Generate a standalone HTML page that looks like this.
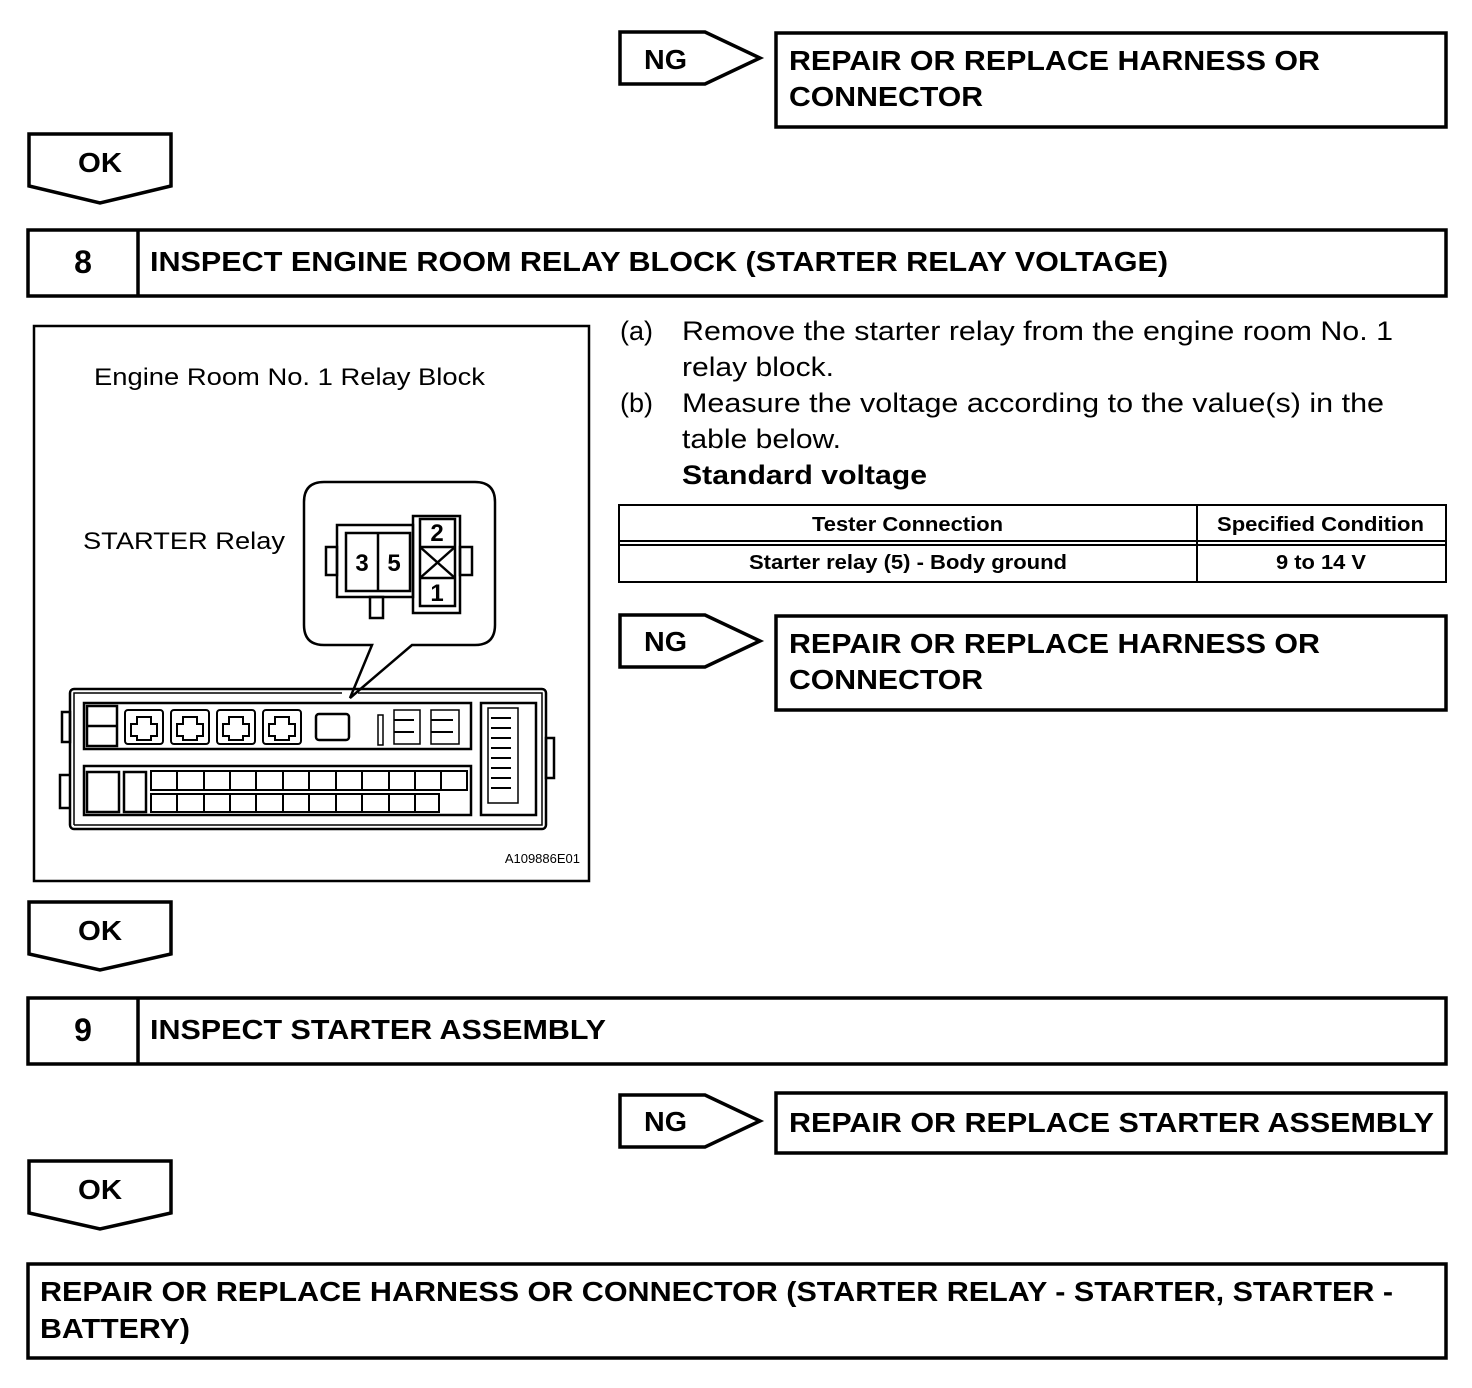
<!DOCTYPE html>
<html><head><style>html,body{margin:0;padding:0;background:#fff}svg{display:block}</style></head>
<body>
<svg width="1472" height="1388" viewBox="0 0 1472 1388" xmlns="http://www.w3.org/2000/svg" font-family="Liberation Sans, Arial, sans-serif">
<g fill="none" stroke="#000" stroke-width="3.5">
<path d="M620,32 H705 L760,58 L705,84 H620 Z"/>
<path d="M620,615 H705 L760,641 L705,667 H620 Z"/>
<path d="M620,1095 H705 L760,1121 L705,1147 H620 Z"/>
<path d="M29,134 H171 V186 L100,203 L29,186 Z"/>
<path d="M29,902 H171 V954 L100,970 L29,954 Z"/>
<path d="M29,1161 H171 V1213 L100,1229 L29,1213 Z"/>
<rect x="776" y="33" width="670" height="94"/>
<rect x="776" y="616" width="670" height="94"/>
<rect x="776" y="1093" width="670" height="60"/>
<rect x="28" y="1264" width="1418" height="94"/>
<rect x="28" y="230" width="1418" height="66"/>
<line x1="138" y1="230" x2="138" y2="296"/>
<rect x="28" y="998" width="1418" height="66"/>
<line x1="138" y1="998" x2="138" y2="1064"/>
</g>
<g font-weight="bold" font-size="28" lengthAdjust="spacingAndGlyphs">
<text x="644" y="69" textLength="43" lengthAdjust="spacingAndGlyphs">NG</text>
<text x="644" y="651" textLength="43" lengthAdjust="spacingAndGlyphs">NG</text>
<text x="644" y="1131" textLength="43" lengthAdjust="spacingAndGlyphs">NG</text>
<text x="78" y="172" textLength="44" lengthAdjust="spacingAndGlyphs">OK</text>
<text x="78" y="940" textLength="44" lengthAdjust="spacingAndGlyphs">OK</text>
<text x="78" y="1199" textLength="44" lengthAdjust="spacingAndGlyphs">OK</text>
<text x="789" y="70" textLength="531" lengthAdjust="spacingAndGlyphs">REPAIR OR REPLACE HARNESS OR</text>
<text x="789" y="106" textLength="194" lengthAdjust="spacingAndGlyphs">CONNECTOR</text>
<text x="789" y="653" textLength="531" lengthAdjust="spacingAndGlyphs">REPAIR OR REPLACE HARNESS OR</text>
<text x="789" y="689" textLength="194" lengthAdjust="spacingAndGlyphs">CONNECTOR</text>
<text x="789" y="1132" textLength="645" lengthAdjust="spacingAndGlyphs">REPAIR OR REPLACE STARTER ASSEMBLY</text>
<text x="40" y="1301" textLength="1353" lengthAdjust="spacingAndGlyphs">REPAIR OR REPLACE HARNESS OR CONNECTOR (STARTER RELAY - STARTER, STARTER -</text>
<text x="40" y="1338" textLength="150" lengthAdjust="spacingAndGlyphs">BATTERY)</text>
<text x="83" y="273" text-anchor="middle" font-size="32">8</text>
<text x="150" y="271" textLength="1018" lengthAdjust="spacingAndGlyphs">INSPECT ENGINE ROOM RELAY BLOCK (STARTER RELAY VOLTAGE)</text>
<text x="83" y="1041" text-anchor="middle" font-size="32">9</text>
<text x="150" y="1039" textLength="456" lengthAdjust="spacingAndGlyphs">INSPECT STARTER ASSEMBLY</text>
</g>
<g font-size="27">
<text x="620" y="340">(a)</text><text x="682" y="340" textLength="711" lengthAdjust="spacingAndGlyphs">Remove the starter relay from the engine room No. 1</text>
<text x="682" y="376" textLength="152" lengthAdjust="spacingAndGlyphs">relay block.</text>
<text x="620" y="412">(b)</text><text x="682" y="412" textLength="702" lengthAdjust="spacingAndGlyphs">Measure the voltage according to the value(s) in the</text>
<text x="682" y="448" textLength="159" lengthAdjust="spacingAndGlyphs">table below.</text>
<text x="682" y="484" font-weight="bold" textLength="245" lengthAdjust="spacingAndGlyphs">Standard voltage</text>
</g>
<g fill="none" stroke="#000" stroke-width="2">
<rect x="619" y="505" width="827" height="77"/>
<line x1="619" y1="541" x2="1446" y2="541"/>
<line x1="619" y1="545" x2="1446" y2="545"/>
<line x1="1197" y1="505" x2="1197" y2="582"/>
</g>
<g font-weight="bold" font-size="20">
<text x="812" y="531" textLength="191" lengthAdjust="spacingAndGlyphs">Tester Connection</text>
<text x="1217" y="531" textLength="207" lengthAdjust="spacingAndGlyphs">Specified Condition</text>
<text x="749" y="569" textLength="318" lengthAdjust="spacingAndGlyphs">Starter relay (5) - Body ground</text>
<text x="1276" y="569" textLength="90" lengthAdjust="spacingAndGlyphs">9 to 14 V</text>
</g>
<g fill="none" stroke="#000" stroke-width="2.5">
<rect x="34" y="326" width="555" height="555"/>
<path d="M324,482 H475 Q495,482 495,502 V625 Q495,645 475,645 H412 L350,698 L372,645 H324 Q304,645 304,625 V502 Q304,482 324,482 Z" fill="#fff"/>
<rect x="337" y="525" width="76" height="72"/>
<rect x="346" y="533" width="64" height="58"/>
<line x1="378" y1="533" x2="378" y2="591"/>
<rect x="413" y="516" width="47" height="97"/>
<rect x="420" y="519" width="35" height="87"/>
<line x1="420" y1="547" x2="455" y2="547"/>
<line x1="420" y1="578" x2="455" y2="578"/>
<line x1="420" y1="547" x2="455" y2="578"/>
<line x1="455" y1="547" x2="420" y2="578"/>
<rect x="326" y="547" width="11" height="28"/>
<rect x="460" y="547" width="12" height="28"/>
<rect x="370" y="597" width="13" height="21"/>
<rect x="70" y="689" width="476" height="140" rx="4"/>
<path d="M74,825 V693 H342 M358,693 H542 V825 H74" stroke-width="1.5"/>
<rect x="84" y="703" width="387" height="46"/>
<rect x="84" y="766" width="387" height="49"/>
<rect x="481" y="703" width="55" height="112"/>
<rect x="488" y="708" width="30" height="95" stroke-width="1.5"/>
<rect x="62" y="712" width="8" height="30"/>
<path d="M70,775 H60 V808 H70"/>
<rect x="546" y="738" width="8" height="40"/>
<rect x="87" y="706" width="30" height="40"/>
<line x1="87" y1="726" x2="117" y2="726"/>
<rect x="316" y="714" width="33" height="26" rx="3"/>
<rect x="378" y="715" width="5" height="30" stroke-width="1.5"/>
<rect x="394" y="710" width="26" height="34" stroke-width="1.5"/>
<rect x="431" y="710" width="28" height="34" stroke-width="1.5"/>
<rect x="87" y="772" width="32" height="40"/>
<rect x="124" y="772" width="22" height="40"/>
</g>
<g fill="none" stroke="#000" stroke-width="2">
<rect x="125" y="710" width="38" height="34" rx="3"/><path d="M137,717 h14 v7 h6 v12 h-6 v4 h-14 v-4 h-6 v-12 h6 z"/>
<rect x="171" y="710" width="38" height="34" rx="3"/><path d="M183,717 h14 v7 h6 v12 h-6 v4 h-14 v-4 h-6 v-12 h6 z"/>
<rect x="217" y="710" width="38" height="34" rx="3"/><path d="M229,717 h14 v7 h6 v12 h-6 v4 h-14 v-4 h-6 v-12 h6 z"/>
<rect x="263" y="710" width="38" height="34" rx="3"/><path d="M275,717 h14 v7 h6 v12 h-6 v4 h-14 v-4 h-6 v-12 h6 z"/>
<path d="M151,771 h316 v19 h-316 z M151,794 h288 v18 h-288 z"/>
<path d="M177,771 v19 M204,771 v19 M230,771 v19 M256,771 v19 M283,771 v19 M309,771 v19 M336,771 v19 M362,771 v19 M389,771 v19 M415,771 v19 M441,771 v19"/>
<path d="M177,794 v18 M204,794 v18 M230,794 v18 M256,794 v18 M283,794 v18 M309,794 v18 M336,794 v18 M362,794 v18 M389,794 v18 M415,794 v18"/>
<path d="M491,718 h20 M491,728 h20 M491,738 h20 M491,748 h20 M491,758 h20 M491,768 h20 M491,778 h20 M491,788 h20"/>
<path d="M394,720 h20 M394,732 h20 M431,720 h22 M431,732 h22"/>
</g>
<g font-size="24">
<text x="94" y="385" textLength="391" lengthAdjust="spacingAndGlyphs">Engine Room No. 1 Relay Block</text>
<text x="83" y="549" textLength="202" lengthAdjust="spacingAndGlyphs">STARTER Relay</text>
</g>
<g font-size="24" font-weight="bold" text-anchor="middle">
<text x="362" y="571">3</text><text x="394" y="571">5</text>
<text x="437" y="541">2</text><text x="437" y="601">1</text>
</g>
<text x="580" y="863" font-size="13" text-anchor="end">A109886E01</text>
</svg>
</body></html>
